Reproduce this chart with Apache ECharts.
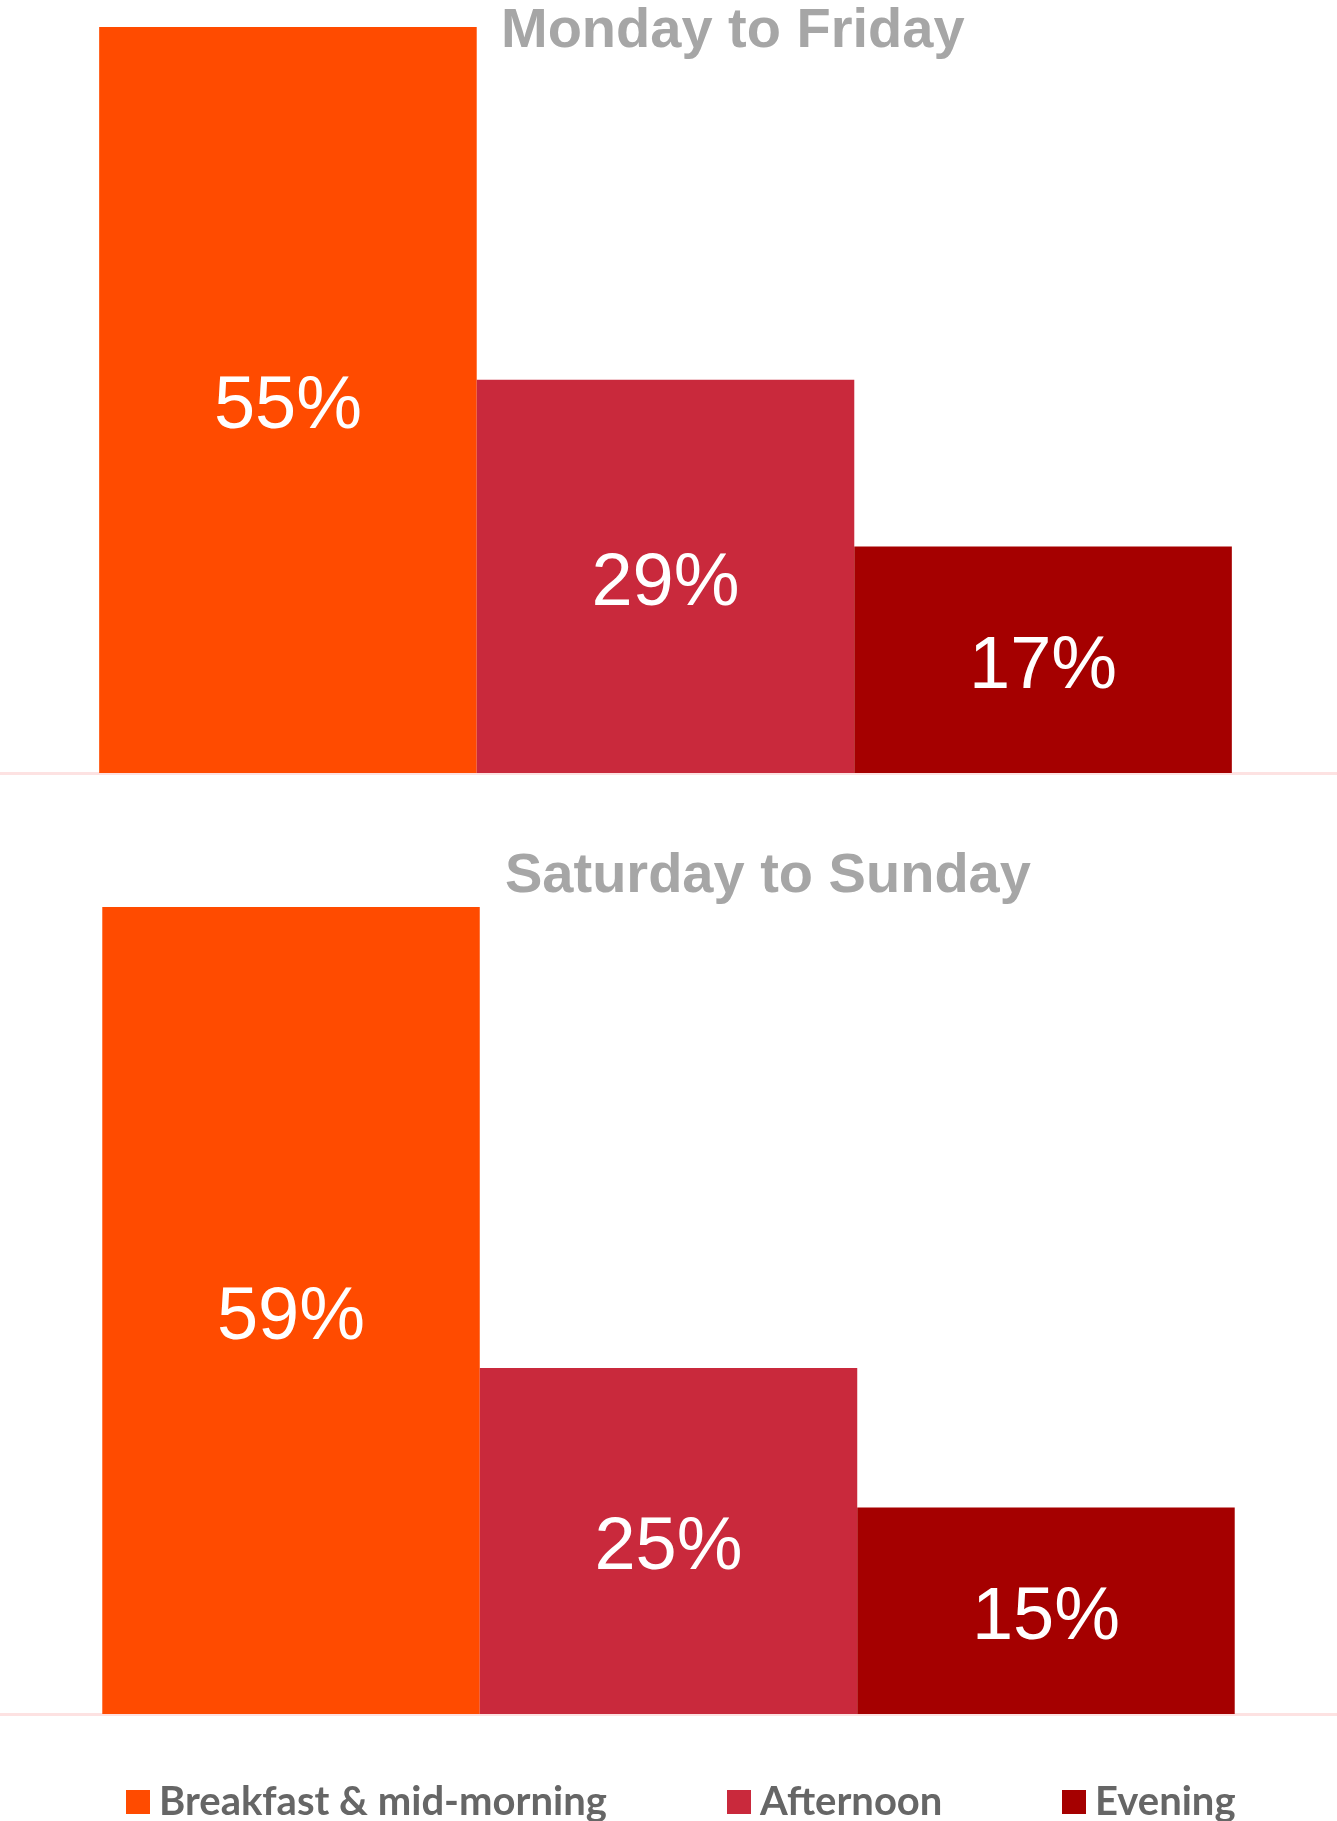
<!DOCTYPE html>
<html>
<head>
<meta charset="utf-8">
<script src="https://cdn.jsdelivr.net/npm/echarts@6/dist/echarts.min.js"></script>
<style>
html,body{margin:0;padding:0;background:#fff;}
#chart{width:1337px;height:1821px;}
</style>
</head>
<body>
<div id="chart"></div>
<script>
var seriesNames = ['Breakfast & mid-morning', 'Afternoon', 'Evening'];
var panelTitles = ['Monday to Friday', 'Saturday to Sunday'];
var weekdayValues = [55, 29, 16.7];
var weekendValues = [59, 25.3, 15.1];
var colors = ['#ff4b00', '#c9293c', '#a50000'];

var chart = echarts.init(document.getElementById('chart'));

function makeSeries(values, idx) {
  return values.map(function (v, i) {
    return {
      name: seriesNames[i],
      type: 'bar',
      xAxisIndex: idx,
      yAxisIndex: idx,
      data: [v],
      barGap: '0%',
      barCategoryGap: idx === 0 ? '14.9%' : '15.3%',
      itemStyle: { color: colors[i] },
      label: {
        show: true,
        position: 'inside',
        offset: [0, 8],
        formatter: function (p) { return Math.round(p.value) + '%'; },
        color: '#ffffff',
        fontFamily: 'Liberation Sans, Arial, sans-serif',
        fontSize: 74
      },
      emphasis: { disabled: true },
      animation: false
    };
  });
}

var legendLefts = [126, 727, 1062];

var option = {
  animation: false,
  title: [
    { text: panelTitles[0], left: 501, top: 4, padding: 0,
      textStyle: { fontFamily: 'Liberation Sans, Arial, sans-serif', fontWeight: 'bold', fontSize: 56, lineHeight: 56, color: '#a6a6a6' } },
    { text: panelTitles[1], left: 505, top: 849, padding: 0,
      textStyle: { fontFamily: 'Liberation Sans, Arial, sans-serif', fontWeight: 'bold', fontSize: 56, lineHeight: 56, color: '#a6a6a6' } }
  ],
  legend: seriesNames.map(function (n, i) {
    return {
      data: [n],
      left: legendLefts[i],
      top: 1782,
      padding: 0,
      itemWidth: 24,
      itemHeight: 24,
      icon: 'rect',
      selectedMode: false,
      textStyle: { fontFamily: 'Lato, sans-serif', fontWeight: 'bold', fontSize: 40, lineHeight: 40, color: '#666666', padding: [0, 0, 0, 4] }
    };
  }),
  grid: [
    { left: 0, right: 6, top: 27, height: 746 },
    { left: 0, right: 0, top: 907, height: 807 },
    { left: 0, right: 0, top: 27, height: 746 }
  ],
  xAxis: [0, 1, 2].map(function (i) {
    return {
      type: 'category', gridIndex: i, data: [''],
      axisLine: { show: i !== 0, lineStyle: { color: '#fde2e2', width: 3 } },
      axisTick: { show: false }, axisLabel: { show: false }
    };
  }),
  yAxis: [0, 1, 2].map(function (i) {
    return {
      type: 'value', gridIndex: i, min: 0, max: i === 2 ? 1 : 'dataMax', show: false,
      splitLine: { show: false }
    };
  }),
  series: makeSeries(weekdayValues, 0).concat(makeSeries(weekendValues, 1))
};
chart.setOption(option);
</script>
</body>
</html>
